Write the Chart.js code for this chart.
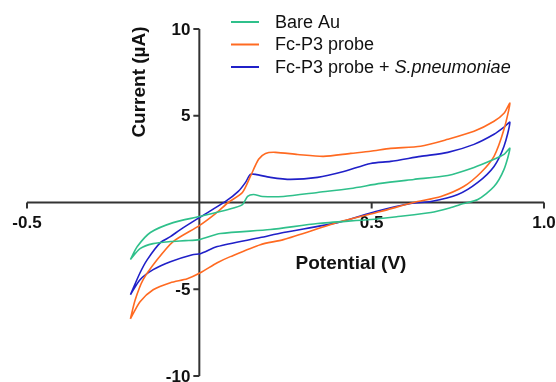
<!DOCTYPE html>
<html>
<head>
<meta charset="utf-8">
<title>Cyclic voltammetry</title>
<script src="https://cdn.jsdelivr.net/npm/chart.js@4/dist/chart.umd.min.js"></script>
<style>
    html, body { margin: 0; padding: 0; background: #fff; }
    #cvChart { display: block; }
</style>
</head>
<body>
<canvas id="cvChart" width="556" height="382"></canvas>
<script>
// ==========================
// DATA
// ==========================
const seriesNames = ["Bare Au", "Fc-P3 probe", "Fc-P3 probe + "];
const seriesItalic = ["", "", "S.pneumoniae"];

// Bare Au
const bareAuX = [-0.200, -0.180, -0.142, -0.076, 0.000, 0.084, 0.125, 0.140, 0.157, 0.183, 0.244, 0.343, 0.439, 0.526, 0.622, 0.721, 0.797, 0.855, 0.884, 0.901,
                 0.884, 0.855, 0.808, 0.767, 0.730, 0.672, 0.576, 0.497, 0.343, 0.206, 0.061, 0.000, -0.041, -0.084, -0.134, -0.172, -0.200];
const bareAuY = [-3.29, -2.54, -1.73, -1.16, -0.81, -0.40, -0.12, 0.35, 0.46, 0.35, 0.35, 0.58, 0.81, 1.10, 1.33, 1.56, 2.02, 2.49, 2.77, 3.12,
                 1.91, 0.92, 0.17, -0.06, -0.29, -0.58, -0.81, -0.98, -1.21, -1.56, -1.79, -2.14, -2.20, -2.25, -2.37, -2.66, -3.29];

// Fc-P3 probe
const probeX = [-0.200, -0.186, -0.163, -0.122, -0.076, 0.000, 0.047, 0.084, 0.125, 0.148, 0.172, 0.192, 0.221, 0.285, 0.360, 0.439, 0.497, 0.555, 0.642, 0.721, 0.797, 0.855, 0.884, 0.901,
                0.884, 0.855, 0.817, 0.767, 0.701, 0.622, 0.526, 0.410, 0.244, 0.177, 0.090, 0.052, 0.003, -0.035, -0.084, -0.134, -0.172, -0.200];
const probeY = [-6.71, -5.61, -4.45, -3.29, -2.25, -1.33, -0.64, 0.00, 0.58, 1.50, 2.49, 2.83, 2.89, 2.77, 2.66, 2.83, 2.95, 3.12, 3.24, 3.64, 4.10, 4.68, 5.14, 5.72,
                4.22, 2.66, 1.73, 0.92, 0.35, 0.00, -0.52, -1.10, -2.14, -2.43, -3.12, -3.47, -4.05, -4.39, -4.62, -5.03, -5.72, -6.71];

// Fc-P3 probe + S.pneumoniae
const pneumoX = [-0.200, -0.172, -0.151, -0.113, -0.084, -0.055, 0.000, 0.076, 0.113, 0.134, 0.148, 0.163, 0.206, 0.265, 0.343, 0.419, 0.497, 0.555, 0.642, 0.721, 0.797, 0.855, 0.884, 0.901,
                 0.884, 0.855, 0.808, 0.750, 0.672, 0.613, 0.512, 0.401, 0.244, 0.177, 0.052, 0.003, -0.020, -0.084, -0.134, -0.172, -0.200];
const pneumoY = [-5.32, -4.05, -3.29, -2.31, -1.97, -1.56, -0.87, 0.06, 0.64, 1.16, 1.62, 1.62, 1.45, 1.33, 1.45, 1.79, 2.25, 2.37, 2.66, 2.89, 3.35, 3.93, 4.34, 4.62,
                 3.24, 2.08, 1.16, 0.46, 0.06, -0.06, -0.52, -1.16, -1.73, -2.02, -2.54, -2.95, -3.01, -3.41, -3.87, -4.45, -5.32];

// Axes
const xTicks = [-0.5, 0.5, 1.0];
const xTickLabels = ["-0.5", "0.5", "1.0"];
const yTicks = [10, 5, -5, -10];
const yTickLabels = ["10", "5", "-5", "-10"];
const xTitle = "Potential (V)";
const yTitle = "Current (\u00b5A)";

const colors = ["#2fc08b", "#ff6a21", "#2020c8"];
const FONT = 'Arial, "Liberation Sans", sans-serif';

function toPoints(xs, ys) {
    return xs.map((x, i) => ({ x: x, y: ys[i] }));
}

// ==========================
// AXES / LEGEND PLUGIN
// ==========================
const crossAxes = {
    id: "crossAxes",
    beforeDatasetsDraw(chart) {
        const ctx = chart.ctx;
        const xs = chart.scales.x;
        const ys = chart.scales.y;
        const x0 = xs.getPixelForValue(0);
        const y0 = ys.getPixelForValue(0);

        ctx.save();
        ctx.strokeStyle = "#333";
        ctx.lineWidth = 2;

        // x axis with ticks hanging down
        ctx.beginPath();
        ctx.moveTo(xs.getPixelForValue(-0.5), y0);
        ctx.lineTo(xs.getPixelForValue(1.0), y0);
        xTicks.forEach(v => {
            const px = xs.getPixelForValue(v);
            ctx.moveTo(px, y0);
            ctx.lineTo(px, y0 + 6);
        });
        // y axis with ticks to the left
        ctx.moveTo(x0, ys.getPixelForValue(10));
        ctx.lineTo(x0, ys.getPixelForValue(-10));
        yTicks.forEach(v => {
            const py = ys.getPixelForValue(v);
            ctx.moveTo(x0, py);
            ctx.lineTo(x0 - 6, py);
        });
        ctx.stroke();

        // tick labels
        ctx.fillStyle = "#111";
        ctx.font = "bold 17px " + FONT;
        ctx.textBaseline = "middle";
        ctx.textAlign = "center";
        xTicks.forEach((v, i) => {
            ctx.fillText(xTickLabels[i], xs.getPixelForValue(v), y0 + 21);
        });
        ctx.textAlign = "right";
        yTicks.forEach((v, i) => {
            ctx.fillText(yTickLabels[i], x0 - 9, ys.getPixelForValue(v) + 1);
        });

        // axis titles
        ctx.font = "bold 19px " + FONT;
        ctx.textAlign = "center";
        ctx.fillText(xTitle, 351, 264);
        ctx.save();
        ctx.translate(140, 82);
        ctx.rotate(-Math.PI / 2);
        ctx.fillText(yTitle, 0, 0);
        ctx.restore();

        // legend
        ctx.textAlign = "left";
        ctx.lineWidth = 2;
        seriesNames.forEach((name, i) => {
            const ly = 22 + i * 22.5;
            ctx.strokeStyle = colors[i];
            ctx.beginPath();
            ctx.moveTo(231, ly);
            ctx.lineTo(259, ly);
            ctx.stroke();
            ctx.font = "18px " + FONT;
            ctx.fillText(name, 275, ly + 1);
            if (seriesItalic[i]) {
                const w = ctx.measureText(name).width;
                ctx.font = "italic 18px " + FONT;
                ctx.fillText(seriesItalic[i], 275 + w, ly + 1);
            }
        });
        ctx.restore();
    }
};

// ==========================
// CHART
// ==========================
const datasetsSrc = [[bareAuX, bareAuY], [probeX, probeY], [pneumoX, pneumoY]];

new Chart(document.getElementById("cvChart"), {
    type: "scatter",
    data: {
        datasets: datasetsSrc.map((s, i) => ({
            label: seriesNames[i] + seriesItalic[i],
            data: toPoints(s[0], s[1]),
            showLine: true,
            borderColor: colors[i],
            borderWidth: 1.6,
            pointRadius: 0,
            tension: 0.25,
            fill: false
        }))
    },
    options: {
        responsive: false,
        animation: false,
        layout: { padding: { left: 27, right: 12, top: 29, bottom: 6 } },
        plugins: {
            legend: { display: false },
            tooltip: { enabled: false }
        },
        scales: {
            x: { type: "linear", min: -0.5, max: 1.0, display: false },
            y: { type: "linear", min: -10, max: 10, display: false }
        }
    },
    plugins: [crossAxes]
});
</script>
</body>
</html>
